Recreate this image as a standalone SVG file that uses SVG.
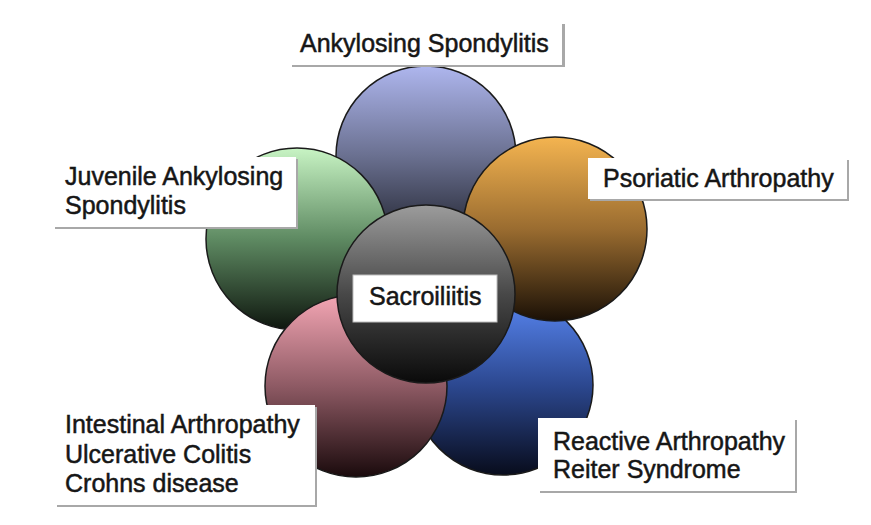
<svg xmlns="http://www.w3.org/2000/svg" width="871" height="525" viewBox="0 0 871 525">
<defs>
<linearGradient id="gTop" x1="0" y1="0" x2="0" y2="1"><stop offset="0" stop-color="#aeb6ee"/><stop offset="0.5" stop-color="#6a7090"/><stop offset="1" stop-color="#1c1e28"/></linearGradient>
<linearGradient id="gGreen" x1="0" y1="0" x2="0" y2="1"><stop offset="0" stop-color="#c8f4c4"/><stop offset="0.5" stop-color="#5e8a62"/><stop offset="1" stop-color="#0e160e"/></linearGradient>
<linearGradient id="gOrange" x1="0" y1="0" x2="0" y2="1"><stop offset="0" stop-color="#f4b450"/><stop offset="0.5" stop-color="#9a6c30"/><stop offset="1" stop-color="#1a1006"/></linearGradient>
<linearGradient id="gBlue" x1="0" y1="0" x2="0" y2="1"><stop offset="0" stop-color="#5a88f4"/><stop offset="0.5" stop-color="#2c4890"/><stop offset="1" stop-color="#080c1c"/></linearGradient>
<linearGradient id="gPink" x1="0" y1="0" x2="0" y2="1"><stop offset="0" stop-color="#f4a6b4"/><stop offset="0.5" stop-color="#8e5a64"/><stop offset="1" stop-color="#1a0a0c"/></linearGradient>
<linearGradient id="gCenter" x1="0" y1="0" x2="0" y2="1"><stop offset="0" stop-color="#9c9c9c"/><stop offset="0.5" stop-color="#484848"/><stop offset="1" stop-color="#0a0a0a"/></linearGradient>
</defs>
<style>
.c{stroke:#1a1a1a;stroke-width:1.5}
.sh{fill:#a8a8a8}
.bx{fill:#ffffff}
.t{font-family:"Liberation Sans",Arial,sans-serif;font-size:25px;fill:#161616;stroke:#161616;stroke-width:0.5}
</style>
<rect width="871" height="525" fill="#ffffff"/>
<g id="circles">
<circle id="c-top" class="c" cx="426" cy="156" r="90" fill="url(#gTop)"/>
<circle id="c-blue" class="c" cx="503" cy="385" r="90" fill="url(#gBlue)"/>
<circle id="c-orange" class="c" cx="555" cy="229" r="92" fill="url(#gOrange)"/>
<circle id="c-green" class="c" cx="297" cy="239" r="91" fill="url(#gGreen)"/>
<circle id="c-pink" class="c" cx="356" cy="386" r="91" fill="url(#gPink)"/>
<circle id="c-center" class="c" cx="426" cy="294" r="89" fill="url(#gCenter)"/>
</g>
<g id="connectors"></g>
<g id="n-ankylosing">
<rect class="sh" x="292" y="24" width="273" height="43"/>
<rect class="bx" x="290" y="22" width="272" height="43"/>
<text class="t" x="300" y="52">Ankylosing Spondylitis</text>
</g>
<g id="n-juvenile">
<rect class="sh" x="55" y="159" width="243" height="70"/>
<rect class="bx" x="53" y="157" width="243" height="70"/>
<text class="t" x="65" y="185">Juvenile Ankylosing</text>
<text class="t" x="65" y="214">Spondylitis</text>
</g>
<g id="n-psoriatic">
<rect class="sh" x="590" y="160" width="259" height="41"/>
<rect class="bx" x="588" y="158" width="259" height="41"/>
<text class="t" x="603" y="187">Psoriatic Arthropathy</text>
</g>
<g id="n-sacroiliitis">
<rect x="353" y="275" width="144" height="47" fill="#ffffff" stroke="#bdbdbd" stroke-width="1"/>
<text class="t" x="369" y="305">Sacroiliitis</text>
</g>
<g id="n-intestinal">
<rect class="sh" x="57" y="407" width="260" height="100"/>
<rect class="bx" x="55" y="405" width="260" height="100"/>
<text class="t" x="65" y="433">Intestinal Arthropathy</text>
<text class="t" x="65" y="463">Ulcerative Colitis</text>
<text class="t" x="65" y="492">Crohns disease</text>
</g>
<g id="n-reactive">
<rect class="sh" x="540" y="420" width="257" height="73"/>
<rect class="bx" x="538" y="418" width="257" height="73"/>
<text class="t" x="553" y="450">Reactive Arthropathy</text>
<text class="t" x="553" y="478">Reiter Syndrome</text>
</g>
</svg>
